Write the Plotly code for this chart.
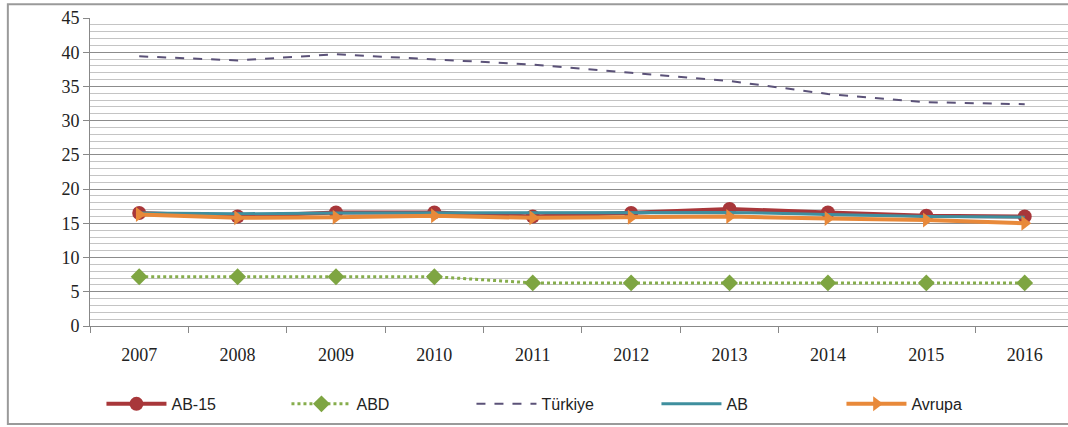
import plotly.graph_objects as go

years = ["2007", "2008", "2009", "2010", "2011", "2012", "2013", "2014", "2015", "2016"]
ab15 = [16.5, 16.0, 16.6, 16.6, 16.0, 16.5, 17.1, 16.6, 16.1, 16.0]
abd = [7.2, 7.2, 7.2, 7.2, 6.3, 6.3, 6.3, 6.3, 6.3, 6.3]
turkiye = [39.4, 38.8, 39.7, 38.9, 38.2, 37.0, 35.8, 33.9, 32.7, 32.4]
ab = [16.5, 16.4, 16.5, 16.5, 16.5, 16.5, 16.6, 16.3, 16.0, 15.9]
avrupa = [16.3, 15.8, 15.9, 16.1, 15.8, 15.9, 16.0, 15.7, 15.5, 15.0]
y_ticks = [0, 5, 10, 15, 20, 25, 30, 35, 40, 45]

fig = go.Figure()
fig.add_trace(go.Scatter(
    x=years, y=ab15, name="AB-15", mode="lines+markers",
    line=dict(color="#a8373a", width=4),
    marker=dict(symbol="circle", size=14, color="#a8373a"),
))
fig.add_trace(go.Scatter(
    x=years, y=abd, name="ABD", mode="lines+markers",
    line=dict(color="#86ad4c", width=3, dash="dot"),
    marker=dict(symbol="diamond", size=13, color="#7ea542"),
))
fig.add_trace(go.Scatter(
    x=years, y=turkiye, name="Türkiye", mode="lines",
    line=dict(color="#5b5278", width=2, dash="dash"),
))
fig.add_trace(go.Scatter(
    x=years, y=ab, name="AB", mode="lines",
    line=dict(color="#3f8f9e", width=3),
))
fig.add_trace(go.Scatter(
    x=years, y=avrupa, name="Avrupa", mode="lines+markers",
    line=dict(color="#e8893a", width=4),
    marker=dict(symbol="triangle-right", size=13, color="#e8893a"),
))

fig.update_layout(
    width=1068, height=427,
    margin=dict(l=90, r=0, t=18, b=101),
    paper_bgcolor="white", plot_bgcolor="white",
    showlegend=True,
    legend=dict(
        orientation="h", xref="container", yref="container",
        x=0.095, y=0.054, xanchor="left", yanchor="middle",
        bgcolor="rgba(0,0,0,0)",
        font=dict(family="Liberation Sans", size=16, color="#222"),
        entrywidth=110, entrywidthmode="pixels",
        itemwidth=60, tracegroupgap=0,
    ),
    xaxis=dict(
        type="category", range=[-0.5, 9.44],
        showgrid=False, showline=True, linecolor="#888", linewidth=1,
        ticks="outside", tickson="boundaries", ticklen=6, tickcolor="#888",
        tickfont=dict(family="Liberation Serif", size=18, color="#222"),
        ticklabelstandoff=12,
    ),
    yaxis=dict(
        range=[0, 45], tickvals=y_ticks,
        showgrid=True, gridcolor="#8c8c8c", gridwidth=1,
        minor=dict(dtick=1, showgrid=True, gridcolor="#c4c4c4", gridwidth=1),
        showline=True, linecolor="#888", linewidth=1,
        ticks="outside", ticklen=6, tickcolor="#888",
        tickfont=dict(family="Liberation Serif", size=18, color="#222"),
        zeroline=False,
    ),
    shapes=[dict(
        type="rect", xref="paper", yref="paper",
        x0=-0.084, x1=1.05, y0=-0.318, y1=1.045,
        line=dict(color="#9a9a9a", width=2), layer="below",
    )],
)

fig.write_html("out.html")
